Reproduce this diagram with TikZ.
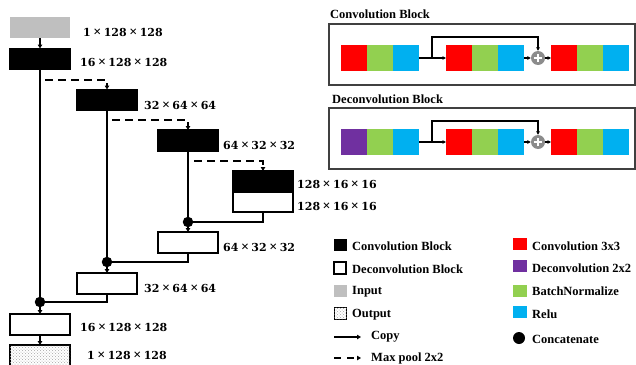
\documentclass[tikz,border=0pt]{standalone}
\usepackage{fontspec}
\setmainfont{Liberation Serif}
\newfontfamily\digitfont{DejaVu Serif}
\usetikzlibrary{arrows.meta,patterns}

% tensor size label: a x b x c
\newcommand{\tmul}{\kern2.5pt{\rmfamily\fontsize{14}{13}\selectfont ×}\kern2.5pt}
\newcommand{\tsize}[3]{{\digitfont\bfseries\fontsize{11}{13}\selectfont #1\tmul #2\tmul #3}}

\definecolor{cconv}{HTML}{FF0000}
\definecolor{cdeconv}{HTML}{7030A0}
\definecolor{cbn}{HTML}{92D050}
\definecolor{crelu}{HTML}{00B0F0}
\definecolor{cinput}{HTML}{BFBFBF}
\definecolor{cplus}{HTML}{8C8C8C}

\begin{document}
\begin{tikzpicture}[x=1pt,y=-1pt,
  font=\bfseries\fontsize{12.5}{14}\selectfont,
  blk/.style={draw=black, line width=1.4pt, minimum width=60pt, minimum height=21pt, inner sep=0pt, outer sep=0pt},
  convblk/.style={blk, fill=black},
  deconvblk/.style={blk, fill=white},
  inblk/.style={blk, draw=none, fill=cinput},
  outblk/.style={blk, fill=white, postaction={pattern=crosshatch dots, pattern color=gray!70}},
  lab/.style={anchor=west, inner sep=0pt},
  link/.style={line width=1.9pt},
  arr/.style={link, -{Triangle[length=4pt,width=4.5pt]}},
  pool/.style={arr, dash pattern=on 8pt off 5pt},
  cat/.style={circle, fill=black, minimum size=10.5pt, inner sep=0pt},
  sq/.style={minimum width=26pt, minimum height=26pt, inner sep=0pt, outer sep=0pt},
  frame/.style={draw=black!75, line width=1.6pt, inner sep=0pt, outer sep=0pt},
  thinarr/.style={line width=1.2pt, -{Triangle[length=3.5pt,width=3.5pt]}},
  plus/.style={circle, fill=cplus, minimum size=14pt, inner sep=0pt},
  key/.style={minimum width=13pt, minimum height=12pt, inner sep=0pt, outer sep=0pt},
]
\useasboundingbox (0,0) rectangle (636,364);

% ---------------- encoder / decoder ----------------
\node[inblk] (in) at (40,27.5) {};
\node[convblk] (c1) at (40,59) {};
\node[convblk] (c2) at (107,100) {};
\node[convblk] (c3) at (188,140.5) {};
\node[convblk] (b4c) at (263,181.5) {};
\node[deconvblk, minimum height=20pt] (b4d) at (263,202) {};
\node[deconvblk] (dc3) at (188,242.5) {};
\node[deconvblk] (dc2) at (107,283.5) {};
\node[deconvblk] (dc1) at (40,324.5) {};
\node[outblk] (out) at (40,355.5) {};

\node[lab] (l0) at (83,32) {\tsize{1}{128}{128}};
\node[lab] (l1) at (80,62) {\tsize{16}{128}{128}};
\node[lab] (l2) at (144,105) {\tsize{32}{64}{64}};
\node[lab] (l3) at (223,145) {\tsize{64}{32}{32}};
\node[lab] (l4) at (297,184) {\tsize{128}{16}{16}};
\node[lab] (l5) at (297,206) {\tsize{128}{16}{16}};
\node[lab] (l6) at (223,247) {\tsize{64}{32}{32}};
\node[lab] (l7) at (144,288) {\tsize{32}{64}{64}};
\node[lab] (l8) at (80,327) {\tsize{16}{128}{128}};
\node[lab] (l9) at (87,355) {\tsize{1}{128}{128}};

\node[cat] (d3) at (188,222) {};
\node[cat] (d2) at (107,262) {};
\node[cat] (d1) at (40,302) {};

\draw[arr] (in) -- (c1);
\coordinate (p1) at (45,80);
\coordinate (p2) at (112,120);
\coordinate (p3) at (194,161);
\draw[pool] (p1) -| (c2.north);
\draw[pool] (p2) -| (c3.north);
\draw[pool] (p3) -| (b4c.north);

% skip connections
\draw[link] (c1) -- (d1);
\draw[link] (c2) -- (d2);
\draw[link] (c3) -- (d3);

% upsampling path
\draw[link] (b4d.south) |- (d3);
\draw[arr] (d3) -- (dc3);
\draw[link] (dc3.south) |- (d2);
\draw[arr] (d2) -- (dc2);
\draw[link] (dc2.south) |- (d1);
\draw[arr] (d1) -- (dc1);
\draw[arr] (dc1) -- (out);

% ---------------- block diagrams ----------------
\node[lab] (tc) at (330,14) {Convolution Block};
\node[frame, minimum width=306pt, minimum height=61pt] (fc) at (482,54.5) {};
\node[lab] (td) at (332,99) {Deconvolution Block};
\node[frame, minimum width=306pt, minimum height=61pt] (fd) at (482,138.5) {};

% convolution block row
\node[sq, fill=cconv] (a1) at (354,58) {};
\node[sq, fill=cbn]   (a2) at (380,58) {};
\node[sq, fill=crelu] (a3) at (406,58) {};
\node[sq, fill=cconv] (a4) at (459,58) {};
\node[sq, fill=cbn]   (a5) at (485,58) {};
\node[sq, fill=crelu] (a6) at (511,58) {};
\node[plus] (ap) at (538,58) {};
\node[sq, fill=cconv] (a7) at (564,58) {};
\node[sq, fill=cbn]   (a8) at (590,58) {};
\node[sq, fill=crelu] (a9) at (616,58) {};

% deconvolution block row
\node[sq, fill=cdeconv] (b1) at (354,142) {};
\node[sq, fill=cbn]   (b2) at (380,142) {};
\node[sq, fill=crelu] (b3) at (406,142) {};
\node[sq, fill=cconv] (b4) at (459,142) {};
\node[sq, fill=cbn]   (b5) at (485,142) {};
\node[sq, fill=crelu] (b6) at (511,142) {};
\node[plus] (bp) at (538,142) {};
\node[sq, fill=cconv] (b7) at (564,142) {};
\node[sq, fill=cbn]   (b8) at (590,142) {};
\node[sq, fill=crelu] (b9) at (616,142) {};

\foreach \p in {ap,bp}{
  \draw[white, line width=2.6pt] ([xshift=-4.2pt]\p.center) -- ([xshift=4.2pt]\p.center);
  \draw[white, line width=2.6pt] ([yshift=-4.2pt]\p.center) -- ([yshift=4.2pt]\p.center);
}

\coordinate (sa) at (432,58);
\coordinate (sb) at (432,142);
\draw[thinarr] (a3) -- (a4);
\draw[thinarr] (sa) -- ++(0,-21) -| (ap.north);
\draw[thinarr] (a6) -- (ap);
\draw[thinarr] (ap) -- (a7);
\draw[thinarr] (b3) -- (b4);
\draw[thinarr] (sb) -- ++(0,-21) -| (bp.north);
\draw[thinarr] (b6) -- (bp);
\draw[thinarr] (bp) -- (b7);

% ---------------- legend ----------------
\node[key, fill=black] (k1) at (340.5,244.5) {};
\node[lab] (k1t) at (352,246) {Convolution Block};
\node[key, draw=black, line width=1.2pt, fill=white, minimum width=12pt] (k2) at (340,268) {};
\node[lab] (k2t) at (352,269) {Deconvolution Block};
\node[key, fill=cinput] (k3) at (340.5,290.5) {};
\node[lab] (k3t) at (352,292) {Input};
\node[key, draw=black, line width=1.2pt, fill=white, postaction={pattern=crosshatch dots, pattern color=gray!70}, minimum width=12pt] (k4) at (340.5,313.5) {};
\node[lab] (k4t) at (352,315) {Output};
\coordinate (k5a) at (334,337);
\coordinate (k5b) at (361,337);
\draw[arr] (k5a) -- (k5b);
\node[lab] (k5t) at (371,337) {Copy};
\coordinate (k6a) at (334,358);
\coordinate (k6b) at (361,358);
\draw[arr, dash pattern=on 7pt off 6pt] (k6a) -- (k6b);
\node[lab] (k6t) at (371,358) {Max pool 2x2};

\node[key, fill=cconv, minimum width=14pt] (r1) at (520,244) {};
\node[lab] (r1t) at (532,246) {Convolution 3x3};
\node[key, fill=cdeconv, minimum width=14pt] (r2) at (520,266) {};
\node[lab] (r2t) at (532,268) {Deconvolution 2x2};
\node[key, fill=cbn, minimum width=14pt] (r3) at (520,290.5) {};
\node[lab] (r3t) at (532,291) {BatchNormalize};
\node[key, fill=crelu, minimum width=14pt] (r4) at (520,311.5) {};
\node[lab] (r4t) at (532,314) {Relu};
\node[cat, minimum size=12pt] (r5) at (519,338) {};
\node[lab] (r5t) at (532,339) {Concatenate};

\end{tikzpicture}
\end{document}
